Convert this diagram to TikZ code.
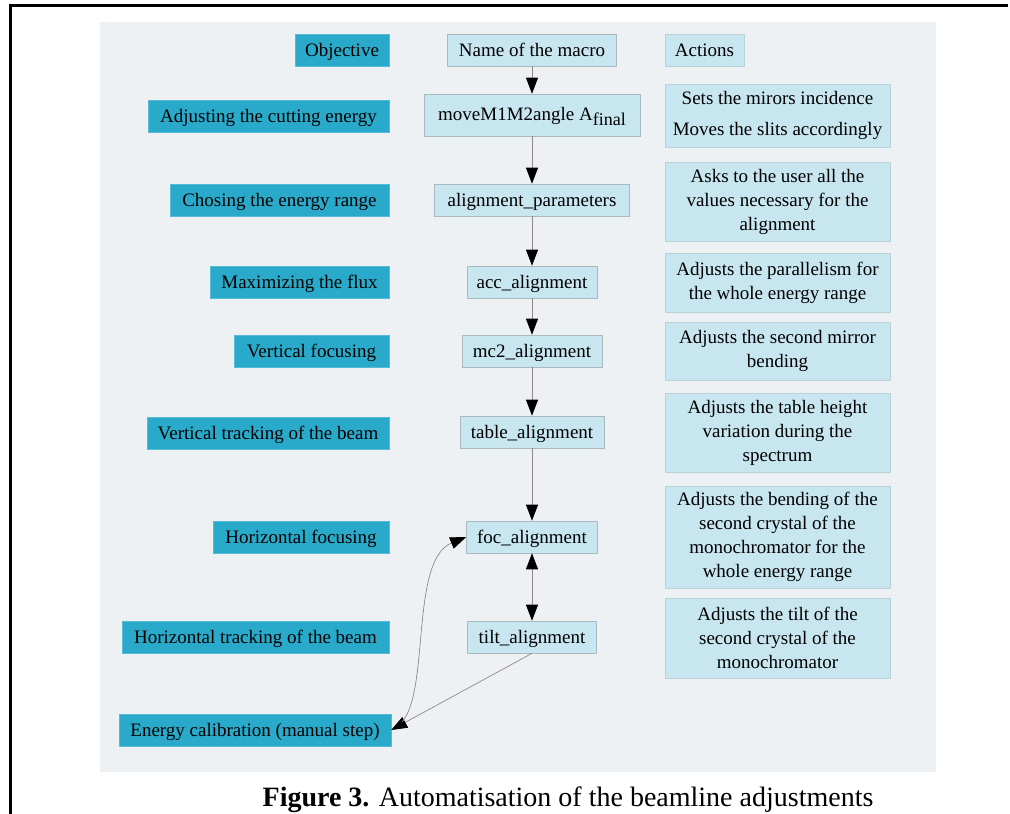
\documentclass[tikz,border=0pt]{standalone}
\usepackage{fontspec}
\setmainfont{Liberation Serif}
\usetikzlibrary{arrows.meta}
\definecolor{panel}{RGB}{237,241,244}
\definecolor{teal}{RGB}{42,170,202}
\definecolor{pale}{RGB}{200,230,240}
\definecolor{paleline}{RGB}{170,185,192}
\definecolor{wire}{RGB}{150,135,135}
\begin{document}
\begin{tikzpicture}[x=1pt,y=-1pt,
  every node/.style={font=\fontsize{19}{24}\selectfont, inner sep=0pt, text=black},
  obj/.style={fill=teal, draw=teal!80!white, align=center, text depth=0pt},
  mac/.style={fill=pale, draw=paleline, line width=0.6pt, align=center, text depth=0pt},
  act/.style={fill=pale, draw=pale!80!gray, line width=0.6pt, align=center},
  link/.style={draw=wire, line width=0.7pt, -{Triangle[length=16pt,width=12pt,black]}},
  blink/.style={draw=wire, line width=0.7pt, {Triangle[length=16pt,width=12pt,black]}-{Triangle[length=16pt,width=12pt,black]}}
]
\useasboundingbox (0,0) rectangle (1010,814);
\fill[white] (0,0) rectangle (1010,814);
\fill[panel] (100,22) rectangle (936,772);
\draw[line width=3pt] (10,814) -- (10,5) -- (1008,5);

% Objective column
\node[obj, minimum width=94, minimum height=32] (o0) at (342,50) {Objective};
\node[obj, minimum width=241, minimum height=32] (o1) at (268.5,116) {Adjusting the cutting energy};
\node[obj, minimum width=219, minimum height=32] (o2) at (279.5,200) {Chosing the energy range};
\node[obj, minimum width=179, minimum height=32] (o3) at (299.5,282) {Maximizing the flux};
\node[obj, minimum width=155, minimum height=32] (o4) at (311.5,351) {Vertical focusing};
\node[obj, minimum width=242, minimum height=32] (o5) at (268,433) {Vertical tracking of the beam};
\node[obj, minimum width=176, minimum height=32] (o6) at (301,537) {Horizontal focusing};
\node[obj, minimum width=267, minimum height=32] (o7) at (255.5,637) {Horizontal tracking of the beam};
\node[obj, minimum width=272, minimum height=32] (o8) at (255,730) {Energy calibration (manual step)};

% Macro column
\node[mac, minimum width=169, minimum height=32] (m0) at (532,50) {Name of the macro};
\node[mac, minimum width=216, minimum height=42, text depth=3pt] (m1) at (532,115) {moveM1M2angle A\raisebox{-5pt}{\fontsize{18}{18}\selectfont final}};
\node[mac, minimum width=195, minimum height=32] (m2) at (532,200) {alignment\_parameters};
\node[mac, minimum width=130, minimum height=32] (m3) at (532,282) {acc\_alignment};
\node[mac, minimum width=140, minimum height=32] (m4) at (532,351) {mc2\_alignment};
\node[mac, minimum width=144, minimum height=32] (m5) at (532,432) {table\_alignment};
\node[mac, minimum width=131, minimum height=32] (m6) at (532,537) {foc\_alignment};
\node[mac, minimum width=129, minimum height=32] (m7) at (532,637) {tilt\_alignment};

% Actions column
\node[act, minimum width=79, minimum height=32, text depth=0pt] (a0) at (704.5,50) {Actions};
\node[act, minimum width=225, minimum height=63, font=\fontsize{19}{31}\selectfont] (a1) at (777.5,115.5) {Sets the mirors incidence\\Moves the slits accordingly};
\node[act, minimum width=225, minimum height=79] (a2) at (777.5,201.5) {Asks to the user all the\\values necessary for the\\alignment};
\node[act, minimum width=225, minimum height=59] (a3) at (777.5,282.5) {Adjusts the parallelism for\\the whole energy range};
\node[act, minimum width=225, minimum height=58] (a4) at (777.5,351) {Adjusts the second mirror\\bending};
\node[act, minimum width=225, minimum height=79] (a5) at (777.5,432.5) {Adjusts the table height\\variation during the\\spectrum};
\node[act, minimum width=225, minimum height=102] (a6) at (777.5,537) {Adjusts the bending of the\\second crystal of the\\monochromator for the\\whole energy range};
\node[act, minimum width=225, minimum height=80] (a7) at (777.5,638) {Adjusts the tilt of the\\second crystal of the\\monochromator};

% Connectors
\draw[link] (m0) -- (m1);
\draw[link] (m1) -- (m2);
\draw[link] (m2) -- (m3);
\draw[link] (m3) -- (m4);
\draw[link] (m4) -- (m5);
\draw[link] (m5) -- (m6);
\draw[blink] (m6) -- (m7);
\draw[link] (m7.south) -- (o8.east);
\coordinate (cs) at (402,722);
\draw[link] (cs) .. controls (430,690) and (410,560) .. (m6.west);

% Caption
\node[font=\fontsize{28}{32}\selectfont] (cap) at (568,800) {\textbf{Figure 3.} Automatisation of the beamline adjustments};
\end{tikzpicture}
\end{document}
